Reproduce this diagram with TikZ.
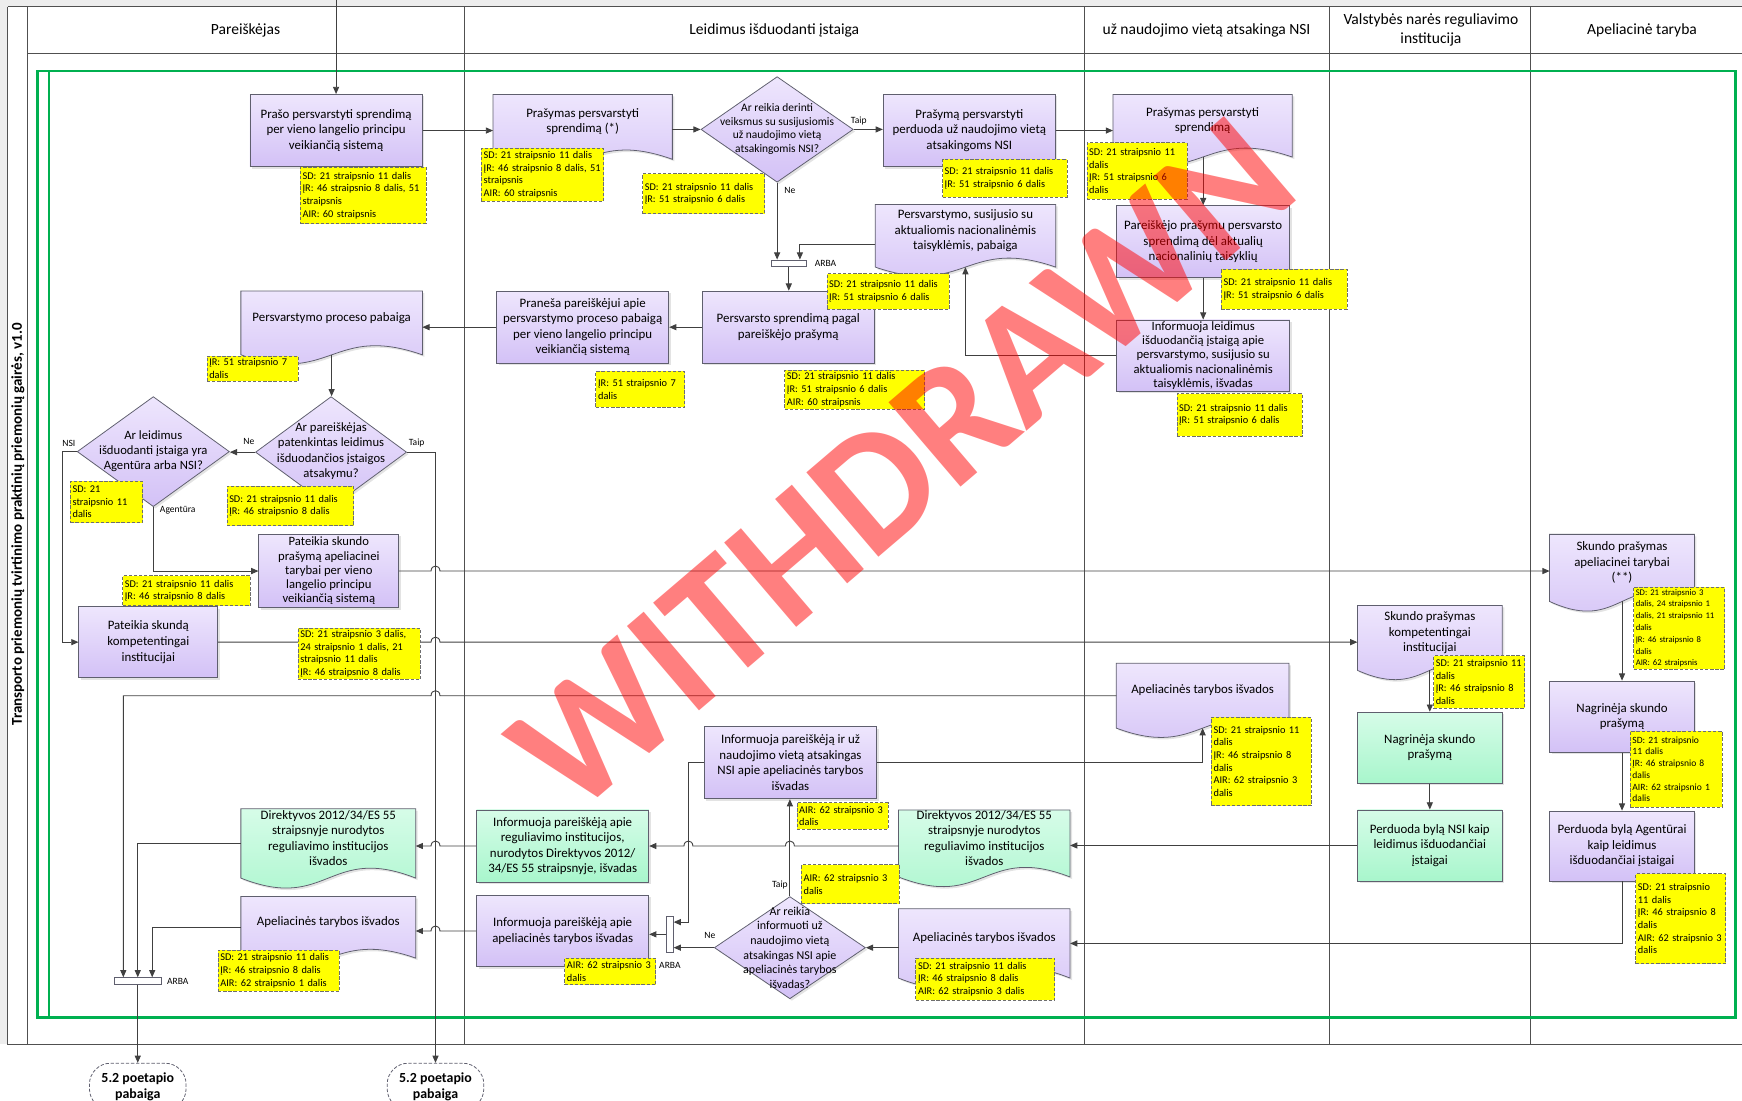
\documentclass[tikz,border=0pt]{standalone}
\usepackage{fontspec}
\setmainfont{Carlito}
\usetikzlibrary{arrows.meta,shapes.geometric,calc,shadows}
\definecolor{pTop}{RGB}{238,230,253}
\definecolor{pBot}{RGB}{211,193,246}
\definecolor{gTop}{RGB}{214,252,232}
\definecolor{gBot}{RGB}{168,246,204}
\definecolor{lineC}{RGB}{64,64,64}
\definecolor{boxC}{RGB}{95,95,110}
\definecolor{noteY}{RGB}{255,255,0}
\definecolor{noteB}{RGB}{110,110,110}
\definecolor{frameG}{RGB}{0,176,80}
\definecolor{frameC}{RGB}{80,80,80}
\newcommand\fBox{\fontsize{11.6}{14}\selectfont}
\newcommand\fBoxT{\fontsize{11.4}{12.8}\selectfont}
\newcommand\fNote{\fontsize{9.3}{11.4}\selectfont}
\newcommand\fNoteS{\fontsize{8.6}{10.6}\selectfont}
\newcommand\fNoteXS{\fontsize{7.8}{10.6}\selectfont}
\newcommand\fDiaA{\fontsize{11.4}{13.8}\selectfont}
\newcommand\fDiaB{\fontsize{10.3}{12.3}\selectfont}
\newcommand\fDiaC{\fontsize{10.8}{13.2}\selectfont}
\newcommand\fLbl{\fontsize{8.6}{10}\selectfont}
\newcommand\fHead{\fontsize{14}{17}\selectfont}
\newcommand\fTerm{\fontsize{12.5}{14.5}\selectfont\bfseries}
\newcommand\fTitle{\fontsize{13.5}{16}\selectfont\bfseries}
\newcommand\fWM{\fontsize{154}{154}\selectfont\bfseries}
\tikzset{
  conn/.style={draw=lineC, line width=0.8pt},
  arr/.style={conn, -{Triangle[length=6.5pt,width=5.5pt]}},
  shd/.style={drop shadow={shadow xshift=1.8pt,shadow yshift=-1.8pt,opacity=0.22}},
  pbox/.style={rectangle, draw=boxC, line width=0.7pt, top color=pTop, bottom color=pBot, align=center, font=\fBox, inner sep=1pt, shd},
  gbox/.style={pbox, top color=gTop, bottom color=gBot},
  note/.style={rectangle, fill=noteY, draw=noteB, dash pattern=on 3pt off 1.6pt, line width=0.7pt, align=left, font=\fNote, inner sep=2pt, anchor=north west},
  dia/.style={diamond, draw=boxC, line width=0.7pt, top color=pTop, bottom color=pBot, inner sep=0pt, shd},
  dtxt/.style={align=center, inner sep=0pt},
  lbl/.style={font=\fLbl, inner sep=1pt},
  arba/.style={rectangle, draw=boxC, fill=white, line width=0.7pt, inner sep=0pt},
  term/.style={rectangle, rounded corners=19pt, draw=boxC, dash pattern=on 3pt off 1.6pt, fill=white, font=\fTerm, align=center, line width=0.7pt, minimum width=87, minimum height=42, inner sep=1pt},
  inv/.style={rectangle, inner sep=0pt, draw=none, fill=none},
  frm/.style={draw=frameC, line width=0.9pt},
}
% document shape: name, cx, top, width, height, top colour, bottom colour, text
\newcommand\Doc[8]{%
  \node[inv, minimum width=#4, minimum height=#5, anchor=north] (#1) at (#2,#3) {};
  \draw[draw=boxC, line width=0.7pt, top color=#6, bottom color=#7, shd]
    (#1.north west) -- (#1.north east) -- (#1.south east)
    .. controls ($(#1.south)+(0,-#5/2)$) and ($(#1.south)+(0,#5/2)$) .. (#1.south west) -- cycle;
  \node[dtxt, font=\fBox] (#1-t) at ($(#1.center)+(0,-#5*0.08)$) {#8};
}
\begin{document}
\begin{tikzpicture}[x=1pt,y=-1pt]
\useasboundingbox (0,0) rectangle (1568,991);
% ---------- frame ----------
\fill[black!7] (0,0) rectangle (1568,6);
\fill[black!7] (0,6) rectangle (7,940);
\draw[frm] (7,6) -- (1580,6);
\draw[frm] (7,6) -- (7,940) -- (1580,940);
\draw[frm] (25,6) -- (25,940);
\draw[frm] (25,48) -- (1580,48);
\foreach \x in {418,976,1197,1378} \draw[frm] (\x,6) -- (\x,940);
\draw[draw=frameG, line width=2.3pt] (34,64) rectangle (1562,916);
\draw[draw=frameG, line width=2.3pt] (44,64) -- (44,916);
\node[rotate=90, font=\fTitle] (title) at (16,472) {Transporto priemonių tvirtinimo praktinių priemonių gairės, v1.0};
% ---------- headers ----------
\node[font=\fHead] (h1) at (221,27) {Pareiškėjas};
\node[font=\fHead] (h2) at (697,27) {Leidimus išduodanti įstaiga};
\node[font=\fHead] (h3) at (1086,27) {už naudojimo vietą atsakinga NSI};
\node[font=\fHead, align=center] (h4) at (1288,27) {Valstybės narės reguliavimo\\institucija};
\node[font=\fHead] (h5) at (1478,27) {Apeliacinė taryba};
% ---------- lane 1 ----------
\node[pbox, minimum width=155, minimum height=65] (a1) at (302.5,117.5) {Prašo persvarstyti sprendimą\\per vieno langelio principu\\veikiančią sistemą};
\Doc{a2}{298.5}{262}{163}{57}{pTop}{pBot}{Persvarstymo proceso pabaiga}
\node[dia, minimum width=136, minimum height=100] (d1) at (298,407) {};
\node[dtxt, font=\fDiaA] (d1t) at (298,406) {Ar pareiškėjas\\patenkintas leidimus\\išduodančios įstaigos\\atsakymu?};
\node[dia, minimum width=137, minimum height=99] (d2) at (138,406.5) {};
\node[dtxt, font=\fDiaA] (d2t) at (138,406) {Ar leidimus\\išduodanti įstaiga yra\\Agentūra arba NSI?};
\node[pbox, minimum width=126, minimum height=66, font=\fBoxT] (a3) at (296,514) {Pateikia skundo\\prašymą apeliacinei\\tarybai per vieno\\langelio principu\\veikiančią sistemą};
\node[pbox, minimum width=125, minimum height=64] (a4) at (133.5,578) {Pateikia skundą\\kompetentingai\\institucijai};
\Doc{a5}{295.5}{728}{157}{62}{gTop}{gBot}{Direktyvos 2012/34/ES 55\\straipsnyje nurodytos\\reguliavimo institucijos\\išvados}
\Doc{a6}{295.5}{807}{157}{55}{pTop}{pBot}{Apeliacinės tarybos išvados}
\node[arba, minimum width=42, minimum height=6] (bar3) at (124,883) {};
\node[term] (term1) at (124,978) {5.2 poetapio\\pabaiga};
\node[term] (term2) at (392,978) {5.2 poetapio\\pabaiga};
% ---------- lane 2 ----------
\Doc{b1}{524.5}{85}{161}{58}{pTop}{pBot}{Prašymas persvarstyti\\sprendimą (*)}
\node[dia, minimum width=137, minimum height=95] (d3) at (699.5,116.5) {};
\node[dtxt, font=\fDiaB] (d3t) at (699.5,116) {Ar reikia derinti\\veiksmus su susijusiomis\\už naudojimo vietą\\atsakingomis NSI?};
\node[pbox, minimum width=155, minimum height=65] (b2) at (872.5,117.5) {Prašymą persvarstyti\\perduoda už naudojimo vietą\\atsakingoms NSI};
\Doc{b3}{869}{184}{162}{56}{pTop}{pBot}{Persvarstymo, susijusio su\\aktualiomis nacionalinėmis\\taisyklėmis, pabaiga}
\node[arba, minimum width=32, minimum height=6] (bar1) at (710,237) {};
\node[pbox, minimum width=155, minimum height=65] (b4) at (709.5,294.5) {Persvarsto sprendimą pagal\\pareiškėjo prašymą};
\node[pbox, minimum width=155, minimum height=65] (b5) at (524.5,294.5) {Praneša pareiškėjui apie\\persvarstymo proceso pabaigą\\per vieno langelio principu\\veikiančią sistemą};
\node[pbox, minimum width=155, minimum height=65] (b6) at (711.5,686.5) {Informuoja pareiškėją ir už\\naudojimo vietą atsakingas\\NSI apie apeliacinės tarybos\\išvadas};
\node[gbox, minimum width=155, minimum height=65] (b7) at (506.5,761.5) {Informuoja pareiškėją apie\\reguliavimo institucijos,\\nurodytos Direktyvos 2012/\\34/ES 55 straipsnyje, išvadas};
\node[pbox, minimum width=155, minimum height=64] (b8) at (506.5,838) {Informuoja pareiškėją apie\\apeliacinės tarybos išvadas};
\node[arba, minimum width=6, minimum height=32] (bar2) at (603,841) {};
\node[dia, minimum width=136, minimum height=92] (d4) at (711,853) {};
\node[dtxt, font=\fDiaC] (d4t) at (711,853) {Ar reikia\\informuoti už\\naudojimo vietą\\atsakingas NSI apie\\apeliacinės tarybos\\išvadas?};
\Doc{b9}{886}{729}{154}{60}{gTop}{gBot}{Direktyvos 2012/34/ES 55\\straipsnyje nurodytos\\reguliavimo institucijos\\išvados}
\Doc{b10}{886}{818}{154}{62}{pTop}{pBot}{Apeliacinės tarybos išvados}
% ---------- lane 3 ----------
\Doc{c1}{1082.5}{85}{161}{56}{pTop}{pBot}{Prašymas persvarstyti\\sprendimą}
\node[pbox, minimum width=156, minimum height=65] (c2) at (1083,217.5) {Pareiškėjo prašymu persvarsto\\sprendimą dėl aktualių\\nacionalinių taisyklių};
\node[pbox, minimum width=156, minimum height=64, font=\fBoxT] (c3) at (1083,320) {Informuoja leidimus\\išduodančią įstaigą apie\\persvarstymo, susijusio su\\aktualiomis nacionalinėmis\\taisyklėmis, išvadas};
\Doc{c4}{1082.5}{597}{155}{58}{pTop}{pBot}{Apeliacinės tarybos išvados}
% ---------- lane 4 ----------
\Doc{e1}{1287}{545}{130}{58}{pTop}{pBot}{Skundo prašymas\\kompetentingai\\institucijai}
\node[gbox, minimum width=130, minimum height=64] (e2) at (1287,673) {Nagrinėja skundo\\prašymą};
\node[gbox, minimum width=130, minimum height=64] (e3) at (1287,761) {Perduoda bylą NSI kaip\\leidimus išduodančiai\\įstaigai};
% ---------- lane 5 ----------
\Doc{f1}{1460}{481}{130}{60}{pTop}{pBot}{Skundo prašymas\\apeliacinei tarybai\\(**)}
\node[pbox, minimum width=130, minimum height=64] (f2) at (1460,645) {Nagrinėja skundo\\prašymą};
\node[pbox, minimum width=130, minimum height=63] (f3) at (1460,761.5) {Perduoda bylą Agentūrai\\kaip leidimus\\išduodančiai įstaigai};
% ---------- connectors ----------
\coordinate (topin) at (302.5,0);
\coordinate (vT) at (term2.north);
\draw[arr] (topin) -- (a1.north);
\draw[arr] (a1.east) -- (a1.east -| b1.west);
\draw[arr] (b1.east |- d3.west) -- (d3.west);
\draw[arr] (d3.east) -- (d3.east -| b2.west);
\draw[arr] (b2.east) -- (b2.east -| c1.west);
\draw[arr] (c2.north |- c1.south) -- (c2.north);
\draw[arr] (c2.south) -- (c3.north);
\draw[arr] (c3.west) -| (b3.south);
\draw[arr] ($(b3.west)+(0,8)$) -| ($(bar1.north)+(10,0)$);
\draw[arr] (d3.south) -- (d3.south |- bar1.north);
\draw[arr] (bar1.south) -- (bar1.south |- b4.north);
\draw[arr] (b4.west) -- (b5.east);
\draw[arr] (b5.west) -- (b5.west -| a2.east);
\draw[arr] (a2.south) -- (a2.south |- d1.north);
\draw[arr] (d1.west) -- (d1.west -| d2.east);
\draw[arr] (d1.east) -| (term2.north);
\draw[arr] (d2.west) -- ($(d2.west)+(-13,0)$) |- (a4.west);
\draw[arr] (d2.south) |- (a3.west);
\coordinate (hp1) at (a3.east -| vT);
\draw[arr] (a3.east) -- ([xshift=-4pt]hp1) .. controls +(0pt,6pt) and +(0pt,6pt) .. ([xshift=4pt]hp1) -- (a3.east -| f1.west);
\coordinate (hp2) at (a4.east -| vT);
\draw[arr] (a4.east) -- ([xshift=-4pt]hp2) .. controls +(0pt,6pt) and +(0pt,6pt) .. ([xshift=4pt]hp2) -- (a4.east -| e1.west);
\coordinate (hp3) at (c4.west -| vT);
\coordinate (b3L) at ($(bar3.north)+(-13,0)$);
\coordinate (b3R) at ($(bar3.north)+(13,0)$);
\draw[arr] (c4.west) -- ([xshift=4pt]hp3) .. controls +(0pt,6pt) and +(0pt,6pt) .. ([xshift=-4pt]hp3) -- (c4.west -| b3L) -- (b3L);
\draw[arr] (b6.east) -| (c4.south);
\coordinate (vB) at ($(b6.west)+(-14,0)$);
\draw[arr] (b6.west) -- (vB) |- ($(bar2.east)+(0,-11)$);
\draw[arr] (d4.west) -- (d4.west -| bar2.east);
\draw[arr] (bar2.west) -- (bar2.west -| b8.east);
\draw[arr] (d4.north) -- (d4.north |- b6.south);
\draw[arr] (b10.west |- d4.east) -- (d4.east);
\draw[arr] (f3.south) |- (b10.east);
\draw[arr] (f1.south) -- (f2.north);
\draw[arr] (f2.south) -- (f3.north);
\draw[arr] (e1.south) -- (e2.north);
\draw[arr] (e2.south) -- (e3.north);
\draw[arr] (e3.west) -- (e3.west -| b9.east);
\coordinate (hp5) at (b7.east -| vB);
\coordinate (hp6) at (b7.east -| d4.north);
\draw[arr] (b9.west |- b7.east) -- ([xshift=4pt]hp6) .. controls +(0pt,6pt) and +(0pt,6pt) .. ([xshift=-4pt]hp6) -- ([xshift=4pt]hp5) .. controls +(0pt,6pt) and +(0pt,6pt) .. ([xshift=-4pt]hp5) -- (b7.east);
\coordinate (hp7) at (b7.west -| vT);
\draw[arr] (b7.west) -- ([xshift=4pt]hp7) .. controls +(0pt,6pt) and +(0pt,6pt) .. ([xshift=-4pt]hp7) -- (b7.west -| a5.east);
\coordinate (hp8) at (b8.west -| vT);
\draw[arr] (b8.west) -- ([xshift=4pt]hp8) .. controls +(0pt,6pt) and +(0pt,6pt) .. ([xshift=-4pt]hp8) -- (b8.west -| a6.east);
\draw[arr] (a5.west) -| (bar3.north);
\draw[arr] (a6.west) -| (b3R);
\draw[arr] (bar3.south) -- (term1.north);
% ---------- labels ----------
\node[lbl] (lTaip1) at (773,109) {Taip};
\node[lbl] (lNe1) at (711,171) {Ne};
\node[lbl] (lArba1) at (743,237) {ARBA};
\node[lbl] (lNe2) at (224,397) {Ne};
\node[lbl] (lTaip2) at (375,399) {Taip};
\node[lbl] (lNsi) at (62,399) {NSI};
\node[lbl] (lAg) at (160,459) {Agentūra};
\node[lbl] (lArba3) at (160,883) {ARBA};
\node[lbl] (lTaip3) at (702,797) {Taip};
\node[lbl] (lNe3) at (639,842) {Ne};
\node[lbl] (lArba2) at (603,869) {ARBA};
% ---------- notes ----------
\node[note, minimum width=113, minimum height=51, text width=109] (nA1) at (270,150) {SD: 21 straipsnio 11 dalis\\ĮR: 46 straipsnio 8 dalis, 51\\straipsnis\\AIR: 60 straipsnis};
\node[note, minimum width=110, minimum height=48, text width=106] (nB1) at (433,133) {SD: 21 straipsnio 11 dalis\\ĮR: 46 straipsnio 8 dalis, 51\\straipsnis\\AIR: 60 straipsnis};
\node[note, minimum width=110, minimum height=36, text width=106] (nD3) at (578,156) {SD: 21 straipsnio 11 dalis\\ĮR: 51 straipsnio 6 dalis};
\node[note, minimum width=112, minimum height=34, text width=108] (nB2) at (848,143) {SD: 21 straipsnio 11 dalis\\ĮR: 51 straipsnio 6 dalis};
\node[note, minimum width=90, minimum height=51, text width=86] (nC1) at (978,128) {SD: 21 straipsnio 11\\dalis\\ĮR: 51 straipsnio 6\\dalis};
\node[note, minimum width=110, minimum height=32, text width=106] (nB3) at (744,246) {SD: 21 straipsnio 11 dalis\\ĮR: 51 straipsnio 6 dalis};
\node[note, minimum width=113, minimum height=36, text width=109] (nC2) at (1099,242) {SD: 21 straipsnio 11 dalis\\ĮR: 51 straipsnio 6 dalis};
\node[note, minimum width=126, minimum height=33, text width=122] (nB4) at (706,333) {SD: 21 straipsnio 11 dalis\\ĮR: 51 straipsnio 6 dalis\\AIR: 60 straipsnis};
\node[note, minimum width=80, minimum height=32, text width=76] (nB5) at (536,334) {ĮR: 51 straipsnio 7\\dalis};
\node[note, minimum width=113, minimum height=38, text width=109] (nC3) at (1059,354) {SD: 21 straipsnio 11 dalis\\ĮR: 51 straipsnio 6 dalis};
\node[note, minimum width=82, minimum height=23, text width=78] (nA2) at (186,320) {ĮR: 51 straipsnio 7\\dalis};
\node[note, minimum width=114, minimum height=36, text width=110] (nD1) at (204,437) {SD: 21 straipsnio 11 dalis\\ĮR: 46 straipsnio 8 dalis};
\node[note, minimum width=65, minimum height=37, text width=61] (nD2) at (63,433) {SD: 21\\straipsnio 11\\dalis};
\node[note, minimum width=115, minimum height=27, text width=111] (nA3) at (110,518) {SD: 21 straipsnio 11 dalis\\ĮR: 46 straipsnio 8 dalis};
\node[note, minimum width=110, minimum height=46, text width=106] (nA4) at (268,565) {SD: 21 straipsnio 3 dalis,\\24 straipsnio 1 dalis, 21\\straipsnio 11 dalis\\ĮR: 46 straipsnio 8 dalis};
\node[note, minimum width=82, minimum height=47, text width=78] (nE1) at (1290,590) {SD: 21 straipsnio 11\\dalis\\ĮR: 46 straipsnio 8\\dalis};
\node[note, font=\fNoteXS, minimum width=82, minimum height=67, text width=78] (nF1) at (1470,528) {SD: 21 straipsnio 3\\dalis, 24 straipsnio 1\\dalis, 21 straipsnio 11\\dalis\\ĮR: 46 straipsnio 8\\dalis\\AIR: 62 straipsnis};
\node[note, minimum width=90, minimum height=80, text width=86] (nC4) at (1090,645) {SD: 21 straipsnio 11\\dalis\\ĮR: 46 straipsnio 8\\dalis\\AIR: 62 straipsnio 3\\dalis};
\node[note, font=\fNoteS, minimum width=83, minimum height=68, text width=79] (nF2) at (1467,658) {SD: 21 straipsnio\\11 dalis\\ĮR: 46 straipsnio 8\\dalis\\AIR: 62 straipsnio 1\\dalis};
\node[note, minimum width=82, minimum height=24, text width=78] (nB6) at (717,722) {AIR: 62 straipsnio 3\\dalis};
\node[note, minimum width=88, minimum height=35, text width=84] (nD4) at (721,778) {AIR: 62 straipsnio 3\\dalis};
\node[note, minimum width=81, minimum height=81, text width=77] (nF3) at (1472,786) {SD: 21 straipsnio\\11 dalis\\ĮR: 46 straipsnio 8\\dalis\\AIR: 62 straipsnio 3\\dalis};
\node[note, minimum width=109, minimum height=37, text width=105] (nA6) at (196,855) {SD: 21 straipsnio 11 dalis\\ĮR: 46 straipsnio 8 dalis\\AIR: 62 straipsnio 1 dalis};
\node[note, minimum width=82, minimum height=24, text width=78] (nB8) at (508,862) {AIR: 62 straipsnio 3\\dalis};
\node[note, minimum width=125, minimum height=38, text width=121] (nB10) at (824,862) {SD: 21 straipsnio 11 dalis\\ĮR: 46 straipsnio 8 dalis\\AIR: 62 straipsnio 3 dalis};
% ---------- watermark ----------
\node[font=\fWM, text=red, opacity=0.5, rotate=40.5, inner sep=0pt] (wm) at (812,418) {WITHDRAWN};
\end{tikzpicture}
\end{document}
